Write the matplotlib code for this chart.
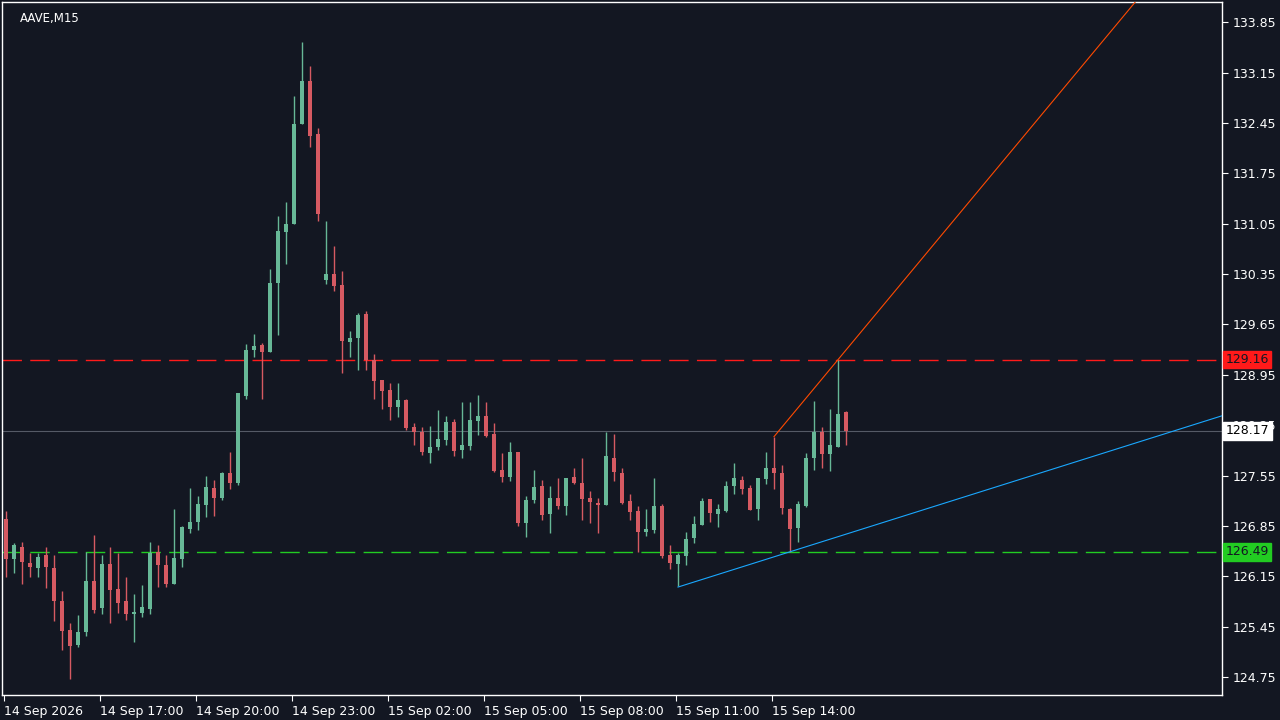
import matplotlib
matplotlib.use("Agg")
import matplotlib.pyplot as plt
import numpy as np

symbol = "AAVE,M15"
opens = [126.94,126.39,126.56,126.34,126.26,126.44,126.27,125.81,125.40,125.20,125.37,126.08,125.71,126.32,125.97,125.81,125.62,125.64,125.69,126.49,
         126.30,126.04,126.39,126.80,126.90,127.14,127.38,127.24,127.59,127.44,128.66,129.29,129.37,129.26,130.22,130.94,131.04,132.43,133.03,132.29,
         130.26,130.35,130.20,129.40,129.46,129.80,129.15,128.88,128.74,128.50,128.60,128.23,128.15,127.86,127.94,128.04,128.30,127.90,127.96,128.31,
         128.38,128.12,127.62,127.53,127.87,126.89,127.21,127.41,127.01,127.24,127.13,127.53,127.44,127.24,127.17,127.14,127.80,127.59,127.19,127.05,
         126.76,126.79,127.12,126.44,126.32,126.43,126.68,126.86,127.22,127.01,127.05,127.40,127.49,127.37,127.08,127.50,127.66,127.59,127.09,126.82,
         127.12,127.79,128.15,127.85,127.94,128.43]
highs = [127.05,126.61,126.63,126.47,126.48,126.55,126.44,125.94,125.50,125.61,126.49,126.72,126.45,126.56,126.47,126.14,125.91,126.03,126.62,126.59,
         126.45,127.08,126.85,127.38,127.27,127.55,127.49,127.60,127.88,128.70,129.38,129.52,129.39,130.42,131.16,131.35,132.82,133.57,133.24,132.38,
         131.09,130.74,130.39,129.56,129.81,129.83,129.24,128.88,128.84,128.83,128.62,128.28,128.23,128.24,128.46,128.38,128.34,128.57,128.57,128.67,
         128.57,128.28,127.86,128.02,127.87,127.27,127.62,127.49,127.41,127.51,127.52,127.66,127.80,127.34,127.24,128.16,128.12,127.66,127.29,127.13,
         127.09,127.51,127.15,126.58,126.47,126.77,126.99,127.24,127.23,127.15,127.47,127.73,127.55,127.42,127.51,127.87,128.08,127.69,127.10,127.19,
         127.86,128.59,128.23,128.47,129.16,128.45]
lows = [126.14,126.20,126.04,126.14,126.14,125.99,125.53,125.13,124.72,125.17,125.32,125.64,125.62,125.50,125.64,125.54,125.24,125.59,125.62,126.00,
        126.00,126.04,126.28,126.75,126.79,126.97,126.99,127.21,127.36,127.42,128.61,129.19,128.61,129.26,129.50,130.49,131.04,132.43,132.12,131.09,
        130.21,130.11,128.97,129.19,129.01,129.01,128.62,128.47,128.32,128.36,128.18,127.97,127.83,127.72,127.91,127.97,127.82,127.79,127.91,128.11,
        128.08,127.60,127.46,127.47,126.85,126.69,127.17,126.93,126.75,127.09,127.00,127.43,126.93,126.89,126.75,127.14,127.48,127.15,126.93,126.49,
        126.71,126.75,126.40,126.25,126.01,126.30,126.61,126.86,126.90,126.83,127.04,127.30,127.30,127.07,126.93,127.43,127.36,127.01,126.49,126.62,
        127.11,127.62,127.65,127.61,127.94,127.97]
closes = [126.39,126.58,126.35,126.28,126.42,126.28,125.81,125.39,125.18,125.37,126.08,125.68,126.32,125.96,125.78,125.62,125.65,125.72,126.47,126.31,
          126.04,126.40,126.83,126.91,127.15,127.39,127.24,127.59,127.44,128.70,129.30,129.35,129.26,130.23,130.95,131.05,132.44,133.03,132.27,131.19,
          130.35,130.19,129.42,129.46,129.78,129.15,128.86,128.73,128.50,128.60,128.21,128.15,127.87,127.95,128.06,128.30,127.89,127.98,128.32,128.38,
          128.10,127.61,127.53,127.87,126.89,127.21,127.39,127.00,127.24,127.13,127.52,127.44,127.22,127.18,127.14,127.82,127.60,127.17,127.04,126.76,
          126.80,127.12,126.43,126.33,126.44,126.67,126.87,127.20,127.03,127.08,127.41,127.51,127.36,127.07,127.51,127.66,127.58,127.10,126.80,127.15,
          127.80,128.15,127.85,127.98,128.41,128.17]

resistance = 129.16
support = 126.49
last_price = 128.17
up_line = [(96, 128.09), (104, 129.16)]
low_line = [(84, 126.00), (98, 126.49)]
time_labels = ["14 Sep 2026", "14 Sep 17:00", "14 Sep 20:00", "14 Sep 23:00", "15 Sep 02:00",
               "15 Sep 05:00", "15 Sep 08:00", "15 Sep 11:00", "15 Sep 14:00"]
price_ticks = [124.75,125.45,126.15,126.85,127.55,128.25,128.95,129.65,130.35,131.05,131.75,132.45,133.15,133.85]

BG = "#131722"
UP = "#67b897"
DN = "#d65a62"

fig = plt.figure(figsize=(12.8, 7.2), dpi=100, facecolor=BG)
ax = fig.add_axes([2/1280, 25/720, 1220/1280, 693/720], facecolor=BG)

o = np.array(opens); h = np.array(highs); l = np.array(lows); c = np.array(closes)
x = np.arange(len(o))
cols = np.where(c >= o, UP, DN)
ax.vlines(x, l, h, colors=cols, linewidth=1, zorder=3)
body = np.maximum(np.abs(c - o), 0.01)
ax.bar(x, body, bottom=np.minimum(o, c), width=0.62, color=cols, zorder=4, linewidth=0)

xmin, xmax = -0.5, 152.0
ymin, ymax = 124.50, 134.13

ax.axhline(resistance, color="#ff1a1a", lw=1, dashes=(14, 6), zorder=2)
ax.axhline(support, color="#22cc22", lw=1, dashes=(14, 6), zorder=2)
ax.axhline(last_price, color="#555a66", lw=0.8, zorder=1)

# orange ray
(x1, y1), (x2, y2) = up_line
s = (y2 - y1) / (x2 - x1)
xe = x1 + (ymax - y1) / s
ax.plot([x1, xe], [y1, ymax], color="#ff4a00", lw=0.8, zorder=5)
(x1, y1), (x2, y2) = low_line
s = (y2 - y1) / (x2 - x1)
ax.plot([x1, xmax], [y1, y1 + s * (xmax - x1)], color="#1aa8ff", lw=0.8, zorder=5)

ax.set_xlim(xmin, xmax)
ax.set_ylim(ymin, ymax)

ax.yaxis.tick_right()
ax.set_yticks(price_ticks)
ax.set_yticklabels([f"{p:.2f}" for p in price_ticks])
ax.set_xticks(np.arange(len(time_labels)) * 12 - 0.25)
ax.set_xticklabels(time_labels, ha="left")
ax.tick_params(colors="white", labelsize=9, length=4, width=0.8)
for sp in ax.spines.values():
    sp.set_color("white"); sp.set_linewidth(1)

def tag(y, txt, bg, fg):
    ax.text(1.003, y, txt, transform=ax.get_yaxis_transform(), ha="left", va="center",
            fontsize=9, color=fg, zorder=10, clip_on=False,
            bbox=dict(boxstyle="square,pad=0.18", fc=bg, ec=bg))
tag(resistance, f"{resistance:.2f}", "#ff1a1a", "#131722")
tag(support, f"{support:.2f}", "#22cc22", "#131722")
tag(last_price, f"{last_price:.2f}", "white", "black")

ax.text(0.015, 0.985, symbol, transform=ax.transAxes, color="white", fontsize=8.5, va="top", ha="left")

fig.savefig("out.png", dpi=100, facecolor=BG)
